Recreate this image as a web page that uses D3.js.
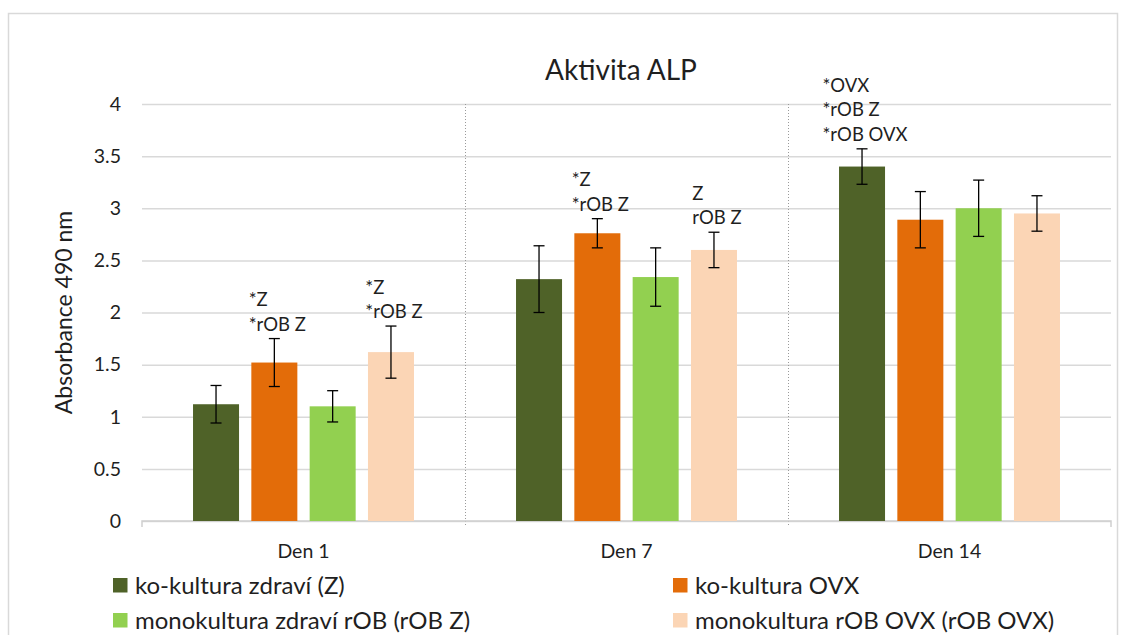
<!DOCTYPE html>
<html>
<head>
<meta charset="utf-8">
<script src="https://cdn.jsdelivr.net/npm/d3@7"></script>
<style>
  html, body { margin: 0; padding: 0; background: #fff; }
  svg { display: block; font-family: Lato, "Open Sans", sans-serif; }
</style>
</head>
<body>
<svg id="chart" width="1126" height="635"></svg>
<script>
// Categories (days) and series names
const days = ["Den 1", "Den 7", "Den 14"];
const seriesNames = [
  "ko-kultura zdraví (Z)",
  "ko-kultura OVX",
  "monokultura zdraví rOB (rOB Z)",
  "monokultura rOB OVX (rOB OVX)"
];
const seriesColors = ["#4f6228", "#e36c09", "#92d050", "#fbd5b5"];

// Mean absorbance at 490 nm per day
const koZ     = [1.12, 2.32, 3.40];
const koOVX   = [1.52, 2.76, 2.89];
const monoZ   = [1.10, 2.34, 3.00];
const monoOVX = [1.62, 2.60, 2.95];

// Error bar half-widths (SD)
const koZErr     = [0.18, 0.32, 0.17];
const koOVXErr   = [0.23, 0.14, 0.27];
const monoZErr   = [0.15, 0.28, 0.27];
const monoOVXErr = [0.25, 0.17, 0.17];

const yTicks = [0, 0.5, 1, 1.5, 2, 2.5, 3, 3.5, 4];

// Significance notes: [day index, series index, lines]
const notes = [
  [0, 1, ["*Z", "*rOB Z"]],
  [0, 3, ["*Z", "*rOB Z"]],
  [1, 1, ["*Z", "*rOB Z"]],
  [1, 3, ["Z", "rOB Z"]],
  [2, 0, ["*OVX", "*rOB Z", "*rOB OVX"]]
];

const means = [koZ, koOVX, monoZ, monoOVX];
const errs = [koZErr, koOVXErr, monoZErr, monoOVXErr];

const svg = d3.select("#chart");
const plotLeft = 142, plotRight = 1111, plotTop = 104, plotBottom = 521;
const textColor = "#1f1f1f";

// chart frame
svg.append("path")
  .attr("d", "M8.5,640 V13.5 H1117.5 V640")
  .attr("fill", "none").attr("stroke", "#d9d9d9").attr("stroke-width", 1.5);

const x0 = d3.scaleBand().domain(days).range([plotLeft, plotRight]).paddingInner(0).paddingOuter(0);
const x1 = d3.scaleBand().domain(d3.range(seriesNames.length))
  .range([0, x0.bandwidth()]).paddingInner(0.211).paddingOuter(0.875);
const y = d3.scaleLinear().domain([0, 4]).range([plotBottom, plotTop]);

// gridlines + y tick labels
const yAxis = svg.append("g").attr("transform", `translate(${plotLeft},0)`)
  .call(d3.axisLeft(y).tickValues(yTicks).tickSize(-(plotRight - plotLeft)).tickPadding(21)
    .tickFormat(d3.format("")));
yAxis.select(".domain").remove();
yAxis.selectAll(".tick line").attr("stroke", "#d9d9d9").attr("stroke-width", 1.5);
yAxis.selectAll(".tick text").attr("fill", textColor).style("font-size", "19.5px")
  .style("font-family", "Lato, sans-serif");

// dotted separators between days
svg.append("g").selectAll("line").data(days.slice(1)).join("line")
  .attr("x1", d => x0(d) + 0.5).attr("x2", d => x0(d) + 0.5)
  .attr("y1", plotTop).attr("y2", plotBottom + 6)
  .attr("stroke", "#9a9a9a").attr("stroke-width", 1).attr("stroke-dasharray", "1,2");

// bottom axis line with end ticks
svg.append("path")
  .attr("d", `M${plotLeft},${plotBottom + 6} V${plotBottom} H${plotRight} V${plotBottom + 6}`)
  .attr("fill", "none").attr("stroke", "#d0d0d0").attr("stroke-width", 1.5);

// bars
const groups = svg.append("g").selectAll("g").data(days).join("g")
  .attr("transform", d => `translate(${x0(d)},0)`);

groups.selectAll("rect")
  .data((d, di) => means.map((s, si) => ({ si, v: s[di] })))
  .join("rect")
  .attr("x", d => x1(d.si)).attr("width", x1.bandwidth())
  .attr("y", d => y(d.v)).attr("height", d => y(0) - y(d.v))
  .attr("fill", d => seriesColors[d.si]);

// error bars
const eb = groups.selectAll("g.err")
  .data((d, di) => means.map((s, si) => ({ si, v: s[di], e: errs[si][di] })))
  .join("g").attr("class", "err")
  .attr("transform", d => `translate(${x1(d.si) + x1.bandwidth() / 2},0)`);
eb.append("line").attr("y1", d => y(d.v + d.e)).attr("y2", d => y(d.v - d.e));
eb.append("line").attr("x1", -5.5).attr("x2", 5.5).attr("y1", d => y(d.v + d.e)).attr("y2", d => y(d.v + d.e));
eb.append("line").attr("x1", -5.5).attr("x2", 5.5).attr("y1", d => y(d.v - d.e)).attr("y2", d => y(d.v - d.e));
eb.selectAll("line").attr("stroke", "#000").attr("stroke-width", 1.3);

// significance notes above error bars
notes.forEach(([di, si, lines]) => {
  const cx = x0(days[di]) + x1(si) + x1.bandwidth() / 2 + 3;
  const yTop = y(means[si][di] + errs[si][di]);
  const t = svg.append("text").attr("fill", textColor)
    .style("font-size", "18.5px");
  lines.forEach((ln, i) => {
    t.append("tspan").attr("x", 0)
      .attr("y", yTop - 8 - (lines.length - 1 - i) * 24.5).text(ln);
  });
  const w = t.node().getBBox().width;
  t.attr("transform", `translate(${cx - w / 2},0)`);
});

// category labels
svg.append("g").selectAll("text").data(days).join("text")
  .attr("x", d => x0(d) + x0.bandwidth() / 2).attr("y", 557.5)
  .attr("text-anchor", "middle").attr("fill", textColor)
  .style("font-size", "19.5px").text(d => d);

// y axis title
svg.append("text")
  .attr("transform", `translate(72,${(plotTop + plotBottom) / 2}) rotate(-90)`)
  .attr("text-anchor", "middle").attr("fill", textColor)
  .style("font-size", "23px").text("Absorbance 490 nm");

// chart title
svg.append("text").attr("x", 621).attr("y", 79.5).attr("text-anchor", "middle")
  .attr("fill", textColor).style("font-size", "28px").text("Aktivita ALP");

// legend (two columns, two rows)
const legendCols = [113, 673];
const legendRows = [585, 620];
const leg = svg.append("g").selectAll("g").data(seriesNames).join("g")
  .attr("transform", (d, i) => `translate(${legendCols[i % 2]},${legendRows[Math.floor(i / 2)]})`);
leg.append("rect").attr("x", 0).attr("y", -7).attr("width", 14.5).attr("height", 14.5)
  .attr("fill", (d, i) => seriesColors[i]);
leg.append("text").attr("x", 22).attr("y", 0).attr("dy", "0.36em")
  .attr("fill", textColor).style("font-size", "24px").text(d => d);
</script>
</body>
</html>
